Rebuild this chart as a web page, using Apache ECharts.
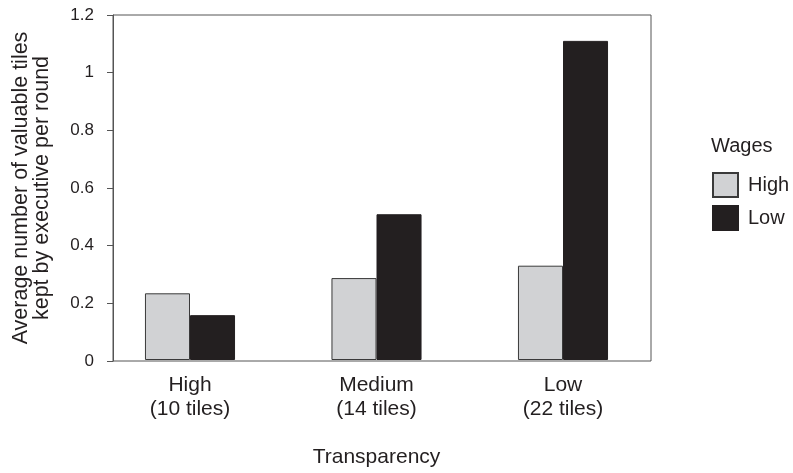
<!DOCTYPE html>
<html>
<head>
<meta charset="utf-8">
<script src="https://cdn.jsdelivr.net/npm/echarts@6/dist/echarts.min.js"></script>
<style>html,body{margin:0;padding:0;background:#fff}#c{width:793px;height:473px}</style>
</head>
<body>
<div id="c"></div>
<script>
var categories = ['High\n(10 tiles)', 'Medium\n(14 tiles)', 'Low\n(22 tiles)'];
var highWages = [0.232, 0.285, 0.328];
var lowWages = [0.156, 0.507, 1.11];
var yTicks = [0, 0.2, 0.4, 0.6, 0.8, 1, 1.2];

var FONT = 'Liberation Sans, Arial, sans-serif';
var TXT = '#231f20';
var chart = echarts.init(document.getElementById('c'), null, {renderer: 'canvas'});
chart.setOption({
  backgroundColor: '#fff',
  animation: false,
  textStyle: {fontFamily: FONT, color: TXT},
  title: {text: 'Wages', left: 711, top: 135, padding: 0,
    textStyle: {fontFamily: FONT, fontSize: 20, fontWeight: 'normal', color: TXT, lineHeight: 22}},
  legend: {
    orient: 'vertical', left: 712, top: 172, padding: 0, itemWidth: 25, itemHeight: 24, itemGap: 7,
    icon: 'rect',
    textStyle: {fontFamily: FONT, fontSize: 20, color: TXT, padding: [0, 0, 0, 5]},
    data: ['High', 'Low']
  },
  grid: [
    {left: 96.75, right: 136.75, top: 15, bottom: 112},
    {left: 113, right: 142, top: 15, bottom: 112, show: true, borderColor: '#555', borderWidth: 1, backgroundColor: 'transparent'}
  ],
  xAxis: [
    {type: 'category', gridIndex: 0, data: categories, boundaryGap: true,
     axisLine: {show: false}, axisTick: {show: false},
     axisLabel: {fontFamily: FONT, fontSize: 21, color: TXT, lineHeight: 24, margin: 13},
     name: 'Transparency', nameLocation: 'middle', nameGap: 86,
     nameTextStyle: {fontFamily: FONT, fontSize: 21, color: TXT, lineHeight: 22}},
    {type: 'value', gridIndex: 1, min: 0, max: 1, show: true,
     axisLine: {show: false}, axisTick: {show: false}, axisLabel: {show: false}, splitLine: {show: false}}
  ],
  yAxis: [
    {type: 'value', gridIndex: 0, min: 0, max: 1.2, interval: 0.2, show: false},
    {type: 'value', gridIndex: 1, min: 0, max: 1.2, interval: 0.2,
     axisLine: {show: true, lineStyle: {color: '#555', width: 1}},
     axisTick: {show: true, length: 6, lineStyle: {color: '#555'}},
     splitLine: {show: false},
     axisLabel: {fontFamily: FONT, fontSize: 17, color: TXT, margin: 19,
       formatter: function (v) { var r = Math.round(v * 10) / 10; return yTicks.indexOf(r) >= 0 ? String(r) : ''; }},
     name: 'Average number of valuable tiles\nkept by executive per round',
     nameLocation: 'middle', nameGap: 60, nameRotate: 90,
     nameTextStyle: {fontFamily: FONT, fontSize: 21.5, color: TXT, lineHeight: 21}}
  ],
  series: [
    {name: 'High', type: 'bar', xAxisIndex: 0, yAxisIndex: 0, data: highWages,
     barGap: '0%', barCategoryGap: '51.7%',
     itemStyle: {color: '#d1d2d4', borderColor: '#3a3a3a', borderWidth: 1}},
    {name: 'Low', type: 'bar', xAxisIndex: 0, yAxisIndex: 0, data: lowWages,
     barGap: '0%', barCategoryGap: '51.7%',
     itemStyle: {color: '#231f20', borderColor: '#231f20', borderWidth: 1}}
  ]
});
</script>
</body>
</html>
